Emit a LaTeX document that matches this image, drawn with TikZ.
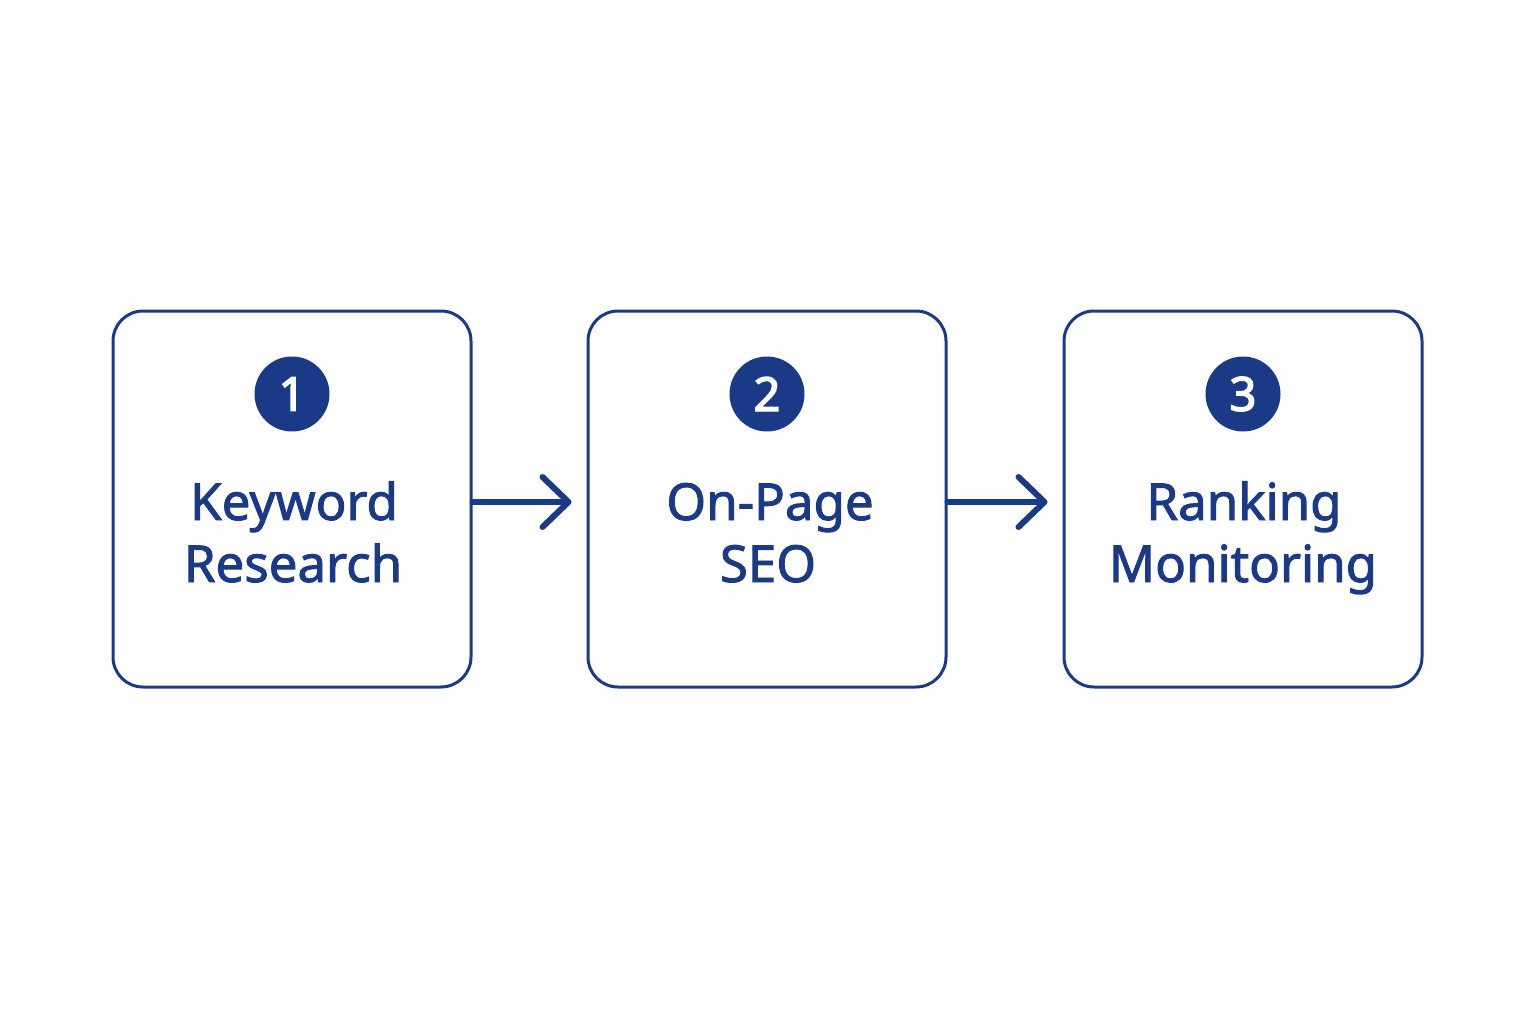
\documentclass[tikz,border=0pt]{standalone}
\usepackage{fontspec}
\setmainfont{Noto Sans}
\newfontfamily\medfont{Noto Sans}[FakeBold=1.8]
\newfontfamily\numfont{Noto Sans}[FakeBold=3]
\usetikzlibrary{arrows.meta}
\definecolor{navy}{HTML}{1A3A88}
\begin{document}
\begin{tikzpicture}[x=1pt,y=-1pt,
  stepbox/.style={draw=navy,line width=3pt,rounded corners=30pt,minimum width=358pt,minimum height=376pt,inner sep=0pt},
  numdot/.style={circle,fill=navy,minimum size=75pt,inner sep=0pt,text=white,font=\numfont\fontsize{47}{50}\selectfont},
  label/.style={text=navy,anchor=base,inner sep=0pt,font=\medfont\fontsize{51}{62}\selectfont},
  flow/.style={draw=navy,line width=6pt,line cap=round,-{Straight Barb[length=26pt,width=50pt,round]},shorten >=15pt}
]
\useasboundingbox (0,0) rectangle (1536,1024);
\node[stepbox] (b1) at (292,499) {};
\node[stepbox] (b2) at (767,499) {};
\node[stepbox] (b3) at (1243,499) {};
\node[numdot] (n1) at (292,394) {1};
\node[numdot] (n2) at (767,394) {2};
\node[numdot] (n3) at (1243,394) {3};
\node[label] (t1a) at (294,520) {Keyword};
\node[label] (t1b) at (293,582) {Research};
\node[label] (t2a) at (770,520) {On-Page};
\node[label] (t2b) at (768,582) {SEO};
\node[label] (t3a) at (1244,520) {Ranking};
\node[label] (t3b) at (1243,582) {Monitoring};
\coordinate (a1s) at (b1.east |- 0,502);
\coordinate (a1e) at (b2.west |- 0,502);
\coordinate (a2s) at (b2.east |- 0,502);
\coordinate (a2e) at (b3.west |- 0,502);
\draw[flow] (a1s) -- (a1e);
\draw[flow] (a2s) -- (a2e);
\end{tikzpicture}
\end{document}
